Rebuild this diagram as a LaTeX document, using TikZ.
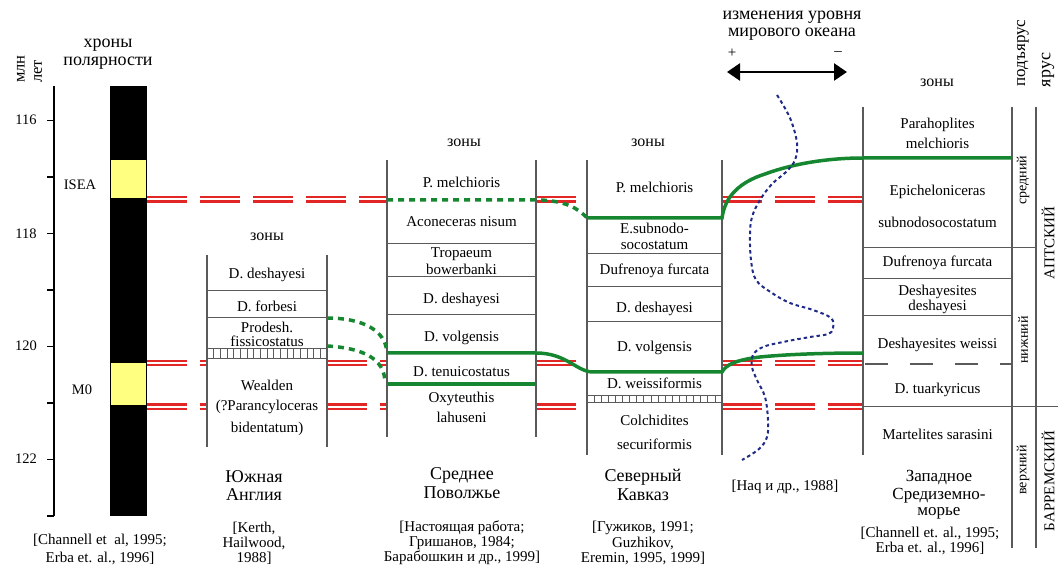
\documentclass[tikz,border=0pt]{standalone}
\usepackage{fontspec}
\setmainfont{Liberation Serif}
\usetikzlibrary{arrows.meta}
\definecolor{redl}{RGB}{226,38,38}
\definecolor{grn}{RGB}{22,135,48}
\definecolor{blu}{RGB}{32,42,135}
\definecolor{yel}{RGB}{255,255,128}
\definecolor{gline}{RGB}{90,90,90}
\begin{document}
\begin{tikzpicture}[x=1pt,y=-1pt,
  every node/.style={inner sep=0pt,outer sep=0pt},
  zone/.style={font=\fontsize{15}{17}\selectfont},
  ttl/.style={font=\fontsize{18}{20}\selectfont},
  cite/.style={font=\fontsize{15}{17}\selectfont},
  hdr/.style={font=\fontsize{16}{18}\selectfont},
  axl/.style={font=\fontsize{14.5}{16}\selectfont},
  vlab/.style={font=\fontsize{14}{16}\selectfont,rotate=90},
  col/.style={draw=gline,line width=1.2pt},
  hl/.style={draw=gline,line width=1pt},
  redd/.style={draw=redl,double=white,double distance=2pt,line width=2.2pt,dash pattern=on 40pt off 13pt},
  grnsolid/.style={draw=grn,line width=3.5pt},
  grndot/.style={draw=grn,line width=3.5pt,dash pattern=on 6pt off 5pt},
  bludot/.style={draw=blu,line width=2pt,dash pattern=on 3.5pt off 3pt},
]
\path[use as bounding box] (0,0) rectangle (1058,569);

% ---------- time axis ----------
\draw[line width=1.5pt] (54,86) -- (54,516);
\foreach \t in {0,...,7} \draw[line width=1.5pt] (47,120.5+56.5*\t) -- (54,120.5+56.5*\t);
\node[axl] (a116) at (26,120) {116};
\node[axl] (a118) at (26,234) {118};
\node[axl] (a120) at (26,346) {120};
\node[axl] (a122) at (26,459) {122};
\node[vlab,anchor=west,font=\fontsize{16.5}{18}\selectfont] (mln) at (21,83) {млн};
\node[vlab,anchor=west,font=\fontsize{16.5}{18}\selectfont] (let) at (38,83) {лет};

% ---------- polarity chrons ----------
\node[ttl] (chr1) at (108,45) {хроны};
\node[ttl] (chr2) at (108,63) {полярности};
\fill[black] (110,86) rectangle (147,516);
\fill[yel] (111,160) rectangle (146,198);
\fill[yel] (111,363) rectangle (146,405);
\node[axl] (isea) at (80,185) {ISEA};
\node[axl] (m0) at (82,390) {M0};
\node[cite] (ch1) at (100,540) {[Channell et\ \ al, 1995;};
\node[cite] (ch2) at (100,558) {Erba et. al., 1996]};

% ---------- red correlation lines ----------
\draw[redd] (147,199.5) -- (387,199.5);
\draw[redd] (536,199.5) -- (587,199.5);
\draw[redd] (722,199.5) -- (863,199.5);
\foreach \yy in {363,406.5}{
  \draw[redd] (147,\yy) -- (207,\yy);
  \draw[redd] (327,\yy) -- (387,\yy);
  \draw[redd] (536,\yy) -- (587,\yy);
  \draw[redd] (722,\yy) -- (863,\yy);
}

% ---------- South England ----------
\node[hdr] (sez) at (267,237) {зоны};
\draw[col] (207,255) -- (207,447);
\draw[col] (327,255) -- (327,447);
\draw[hl] (207,291) -- (327,291);
\draw[hl] (207,318) -- (327,318);
\draw[hl] (207,349) -- (327,349);
\draw[hl] (207,359) -- (327,359);
\foreach \i in {1,...,17} \draw[gline,line width=0.7pt] (207+\i*6.667,349) -- (207+\i*6.667,359);
\node[zone] (se1) at (267,275) {D. deshayesi};
\node[zone] (se2) at (267,306) {D. forbesi};
\node[zone] (se3) at (267,327) {Prodesh.};
\node[zone] (se4) at (267,341) {fissicostatus};
\node[zone] (se5) at (267,385) {Wealden};
\node[zone] (se6) at (267,407) {(?Parancyloceras};
\node[zone] (se7) at (267,429) {bidentatum)};
\node[ttl] (set1) at (254,477) {Южная};
\node[ttl] (set2) at (254,495) {Англия};
\node[cite] (sec1) at (254,528) {[Kerth,};
\node[cite] (sec2) at (254,543) {Hailwood,};
\node[cite] (sec3) at (254,558) {1988]};

% ---------- Middle Volga ----------
\node[hdr] (mvz) at (464,143) {зоны};
\draw[col] (387,160) -- (387,437);
\draw[col] (536,160) -- (536,437);
\draw[hl] (387,244) -- (536,244);
\draw[hl] (387,277) -- (536,277);
\draw[hl] (387,315) -- (536,315);
\node[zone] (mv1) at (461.5,182) {P. melchioris};
\node[zone] (mv2) at (461.5,222) {Aconeceras nisum};
\node[zone] (mv3) at (461.5,254) {Tropaeum};
\node[zone] (mv4) at (461.5,269) {bowerbanki};
\node[zone] (mv5) at (461.5,300) {D. deshayesi};
\node[zone] (mv6) at (461.5,338) {D. volgensis};
\node[zone] (mv7) at (461.5,372) {D. tenuicostatus};
\node[zone] (mv8) at (461.5,399) {Oxyteuthis};
\node[zone] (mv9) at (461.5,417) {lahuseni};
\node[ttl] (mvt1) at (462,475) {Среднее};
\node[ttl] (mvt2) at (462,493) {Поволжье};
\node[cite] (mvc1) at (462,528) {[Настоящая работа;};
\node[cite] (mvc2) at (462,543) {Гришанов, 1984;};
\node[cite] (mvc3) at (462,558) {Барабошкин и др., 1999]};

% ---------- North Caucasus ----------
\node[hdr] (ncz) at (648,143) {зоны};
\draw[col] (587,160) -- (587,455);
\draw[col] (722,160) -- (722,455);
\draw[hl] (587,254) -- (722,254);
\draw[hl] (587,287) -- (722,287);
\draw[hl] (587,322) -- (722,322);
\draw[hl] (587,395) -- (722,395);
\draw[hl] (587,402) -- (722,402);
\foreach \i in {1,...,18} \draw[gline,line width=0.7pt] (587+\i*7.105,395) -- (587+\i*7.105,402);
\node[zone] (nc1) at (654.5,187) {P. melchioris};
\node[zone] (nc2) at (654.5,228) {E.subnodo-};
\node[zone] (nc3) at (654.5,245) {socostatum};
\node[zone] (nc4) at (654.5,271) {Dufrenoya furcata};
\node[zone] (nc5) at (654.5,309) {D. deshayesi};
\node[zone] (nc6) at (654.5,348) {D. volgensis};
\node[zone] (nc7) at (654.5,383) {D. weissiformis};
\node[zone] (nc8) at (654.5,420) {Colchidites};
\node[zone] (nc9) at (654.5,444) {securiformis};
\node[ttl] (nct1) at (643,477) {Северный};
\node[ttl] (nct2) at (643,495) {Кавказ};
\node[cite] (ncc1) at (643,528) {[Гужиков, 1991;};
\node[cite] (ncc2) at (643,543) {Guzhikov,};
\node[cite] (ncc3) at (643,558) {Eremin, 1995, 1999]};

% ---------- sea level ----------
\node[ttl] (sl1) at (792,17) {изменения уровня};
\node[ttl] (sl2) at (792,34) {мирового океана};
\node[font=\fontsize{15}{17}\selectfont] (slp) at (732,53) {+};
\node[font=\fontsize{15}{17}\selectfont] (slm) at (838,54) {–};
\coordinate (arl) at (727,72);
\coordinate (arr) at (847,72);
\draw[line width=2.5pt,{Triangle[length=13pt,width=17pt]}-{Triangle[length=13pt,width=17pt]}] (arl) -- (arr);
\node[cite] (haq) at (785,487) {[Haq и др., 1988]};

% ---------- Western Mediterranean ----------
\node[hdr] (wmz) at (937,83) {зоны};
\draw[col] (863,107) -- (863,455);
\draw[col] (1012,107) -- (1012,548);
\draw[col] (1036,107) -- (1036,548);
\draw[hl] (863,248) -- (1036,248);
\draw[hl] (863,279) -- (1012,279);
\draw[hl] (863,316) -- (1012,316);
\draw[gline,line width=1.5pt,dash pattern=on 23pt off 22pt] (865,364) -- (1012,364);
\draw[hl] (863,406) -- (1058,406);
\node[zone] (wm1) at (937.5,125) {Parahoplites};
\node[zone] (wm2) at (937.5,143) {melchioris};
\node[zone] (wm3) at (937.5,192) {Epicheloniceras};
\node[zone] (wm4) at (937.5,222) {subnodosocostatum};
\node[zone] (wm5) at (937.5,263) {Dufrenoya furcata};
\node[zone] (wm6) at (937.5,292) {Deshayesites};
\node[zone] (wm7) at (937.5,307) {deshayesi};
\node[zone] (wm8) at (937.5,345) {Deshayesites weissi};
\node[zone] (wm9) at (937.5,390) {D. tuarkyricus};
\node[zone] (wm10) at (937.5,434) {Martelites sarasini};
\node[ttl,font=\fontsize{17}{19}\selectfont] (wmt1) at (939,478) {Западное};
\node[ttl,font=\fontsize{17}{19}\selectfont] (wmt2) at (939,495.5) {Средиземно-};
\node[ttl,font=\fontsize{17}{19}\selectfont] (wmt3) at (939,513) {морье};
\node[cite] (wmc1) at (930,533) {[Channell et. al., 1995;};
\node[cite] (wmc2) at (930,548) {Erba et. al., 1996]};
\node[vlab,font=\fontsize{17}{19}\selectfont] (sub) at (1023,53) {подъярус};
\node[vlab,font=\fontsize{18}{20}\selectfont] (stg) at (1048,70) {ярус};
\node[vlab] (sub1) at (1023,180) {средний};
\node[vlab] (sub2) at (1023,340) {нижний};
\node[vlab] (sub3) at (1023,470) {верхний};
\node[vlab,font=\fontsize{15}{17}\selectfont] (apt) at (1048,243) {АПТСКИЙ};
\node[vlab,font=\fontsize{15}{17}\selectfont] (brm) at (1048,481) {БАРРЕМСКИЙ};

% ---------- green lines ----------
\draw[grndot] (327,318) .. controls (362,318) and (386,330) .. (387,353);
\draw[grndot] (327,346) .. controls (362,348) and (385,358) .. (385,383);
\draw[grndot] (387,200) -- (540,200) .. controls (565,201) and (578,208) .. (587,218);
\draw[grnsolid] (587,218) -- (722,218) .. controls (725,196) and (740,182) .. (765,174) .. controls (795,163) and (830,158) .. (863,158) -- (1012,158);
\draw[grnsolid] (387,353) -- (536,353) .. controls (566,353) and (576,371) .. (592,372) -- (722,372) .. controls (726,365) and (735,360) .. (760,357) .. controls (790,354) and (830,353) .. (863,353);
\draw[grnsolid] (387,384) -- (536,384);

% ---------- eustatic curve ----------
\draw[bludot] plot[smooth,tension=0.6] coordinates {(777,95) (790,118) (797,143) (795,160) (786,172) (772,184) (760,200) (752,217) (750,235) (751,260) (756,280) (772,293) (790,303) (813,310) (831,318) (833,328) (828,334) (810,337) (783,342) (763,347) (753,355) (752,367) (757,380) (765,397) (768,420) (767,437) (759,449) (742,460)};
\end{tikzpicture}
\end{document}
